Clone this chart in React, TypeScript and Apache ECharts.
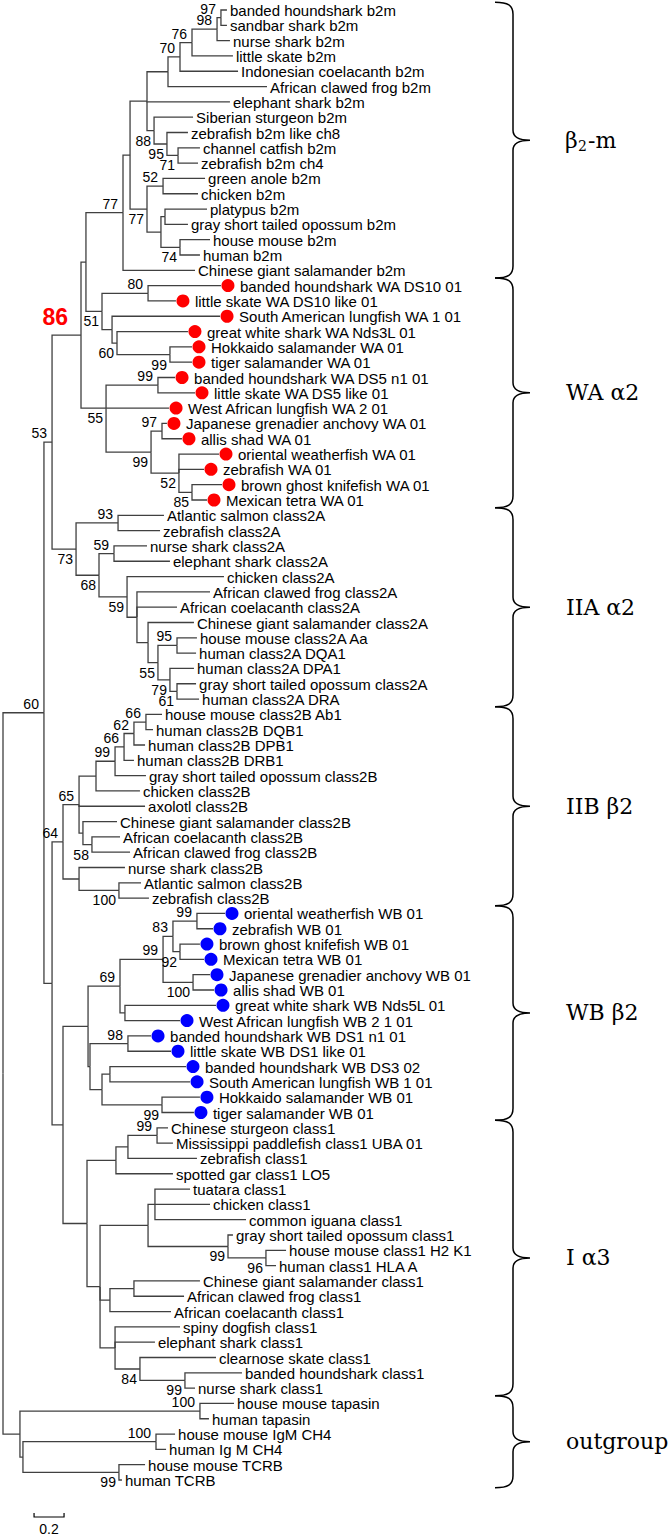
import React, { useEffect, useRef } from "react";
import * as echarts from "echarts";

// ---------- DATA ----------
const leafNames: string[] = [
  "banded houndshark b2m", "sandbar shark b2m", "nurse shark b2m", "little skate b2m",
  "Indonesian coelacanth b2m", "African clawed frog b2m", "elephant shark b2m", "Siberian sturgeon b2m",
  "zebrafish b2m like ch8", "channel catfish b2m", "zebrafish b2m ch4", "green anole b2m",
  "chicken b2m", "platypus b2m", "gray short tailed opossum b2m", "house mouse b2m",
  "human b2m", "Chinese giant salamander b2m",
  "banded houndshark WA DS10 01", "little skate WA DS10 like 01", "South American lungfish WA 1 01",
  "great white shark WA Nds3L 01", "Hokkaido salamander WA 01", "tiger salamander WA 01",
  "banded houndshark WA DS5 n1 01", "little skate WA DS5 like 01", "West African lungfish WA 2 01",
  "Japanese grenadier anchovy WA 01", "allis shad WA 01", "oriental weatherfish WA 01",
  "zebrafish WA 01", "brown ghost knifefish WA 01", "Mexican tetra WA 01",
  "Atlantic salmon class2A", "zebrafish class2A", "nurse shark class2A", "elephant shark class2A",
  "chicken class2A", "African clawed frog class2A", "African coelacanth class2A",
  "Chinese giant salamander class2A", "house mouse class2A Aa", "human class2A DQA1",
  "human class2A DPA1", "gray short tailed opossum class2A", "human class2A DRA",
  "house mouse class2B Ab1", "human class2B DQB1", "human class2B DPB1", "human class2B DRB1",
  "gray short tailed opossum class2B", "chicken class2B", "axolotl class2B",
  "Chinese giant salamander class2B", "African coelacanth class2B", "African clawed frog class2B",
  "nurse shark class2B", "Atlantic salmon class2B", "zebrafish class2B",
  "oriental weatherfish WB 01", "zebrafish WB 01", "brown ghost knifefish WB 01", "Mexican tetra WB 01",
  "Japanese grenadier anchovy WB 01", "allis shad WB 01", "great white shark WB Nds5L 01",
  "West African lungfish WB 2 1 01", "banded houndshark WB DS1 n1 01", "little skate WB DS1 like 01",
  "banded houndshark WB DS3 02", "South American lungfish WB 1 01", "Hokkaido salamander WB 01",
  "tiger salamander WB 01",
  "Chinese sturgeon class1", "Mississippi paddlefish class1 UBA 01", "zebrafish class1",
  "spotted gar class1 LO5", "tuatara class1", "chicken class1", "common iguana class1",
  "gray short tailed opossum class1", "house mouse class1 H2 K1", "human class1 HLA A",
  "Chinese giant salamander class1", "African clawed frog class1", "African coelacanth class1",
  "spiny dogfish class1", "elephant shark class1", "clearnose skate class1",
  "banded houndshark class1", "nurse shark class1",
  "house mouse tapasin", "human tapasin", "house mouse IgM CH4", "human Ig M CH4",
  "house mouse TCRB", "human TCRB",
];

// distance from root (substitutions per site) of each leaf tip
const leafDepth: number[] = [
  1.493, 1.493, 1.513, 1.533, 1.567, 1.760, 1.513, 1.267, 1.233, 1.313,
  1.300, 1.347, 1.300, 1.360, 1.233, 1.380, 1.313, 1.280,
  1.453, 1.153, 1.447, 1.233, 1.260, 1.260, 1.147, 1.280, 1.107, 1.093,
  1.193, 1.440, 1.340, 1.460, 1.360,
  1.073, 1.047, 0.960, 1.113, 1.473, 1.380, 1.160, 1.273, 1.293, 1.287,
  1.273, 1.287, 1.307,
  1.060, 1.000, 0.947, 0.873, 0.953, 0.913, 0.947, 0.760, 0.780, 0.847,
  0.813, 0.920, 0.973,
  1.480, 1.400, 1.313, 1.340, 1.380, 1.407, 1.420, 1.180, 0.987, 1.120,
  1.220, 1.247, 1.313, 1.273,
  1.100, 1.133, 1.293, 1.133, 1.247, 1.380, 1.620, 1.533, 1.887, 1.820,
  1.313, 1.207, 1.120, 1.180, 1.013, 1.420, 1.593, 1.280,
  1.540, 1.373, 1.147, 1.087, 0.947, 0.793,
];

const redDotLeaves: number[] = [18, 19, 20, 21, 22, 23, 24, 25, 26, 27, 28, 29, 30, 31, 32];
const blueDotLeaves: number[] = [59, 60, 61, 62, 63, 64, 65, 66, 67, 68, 69, 70, 71, 72];

// internal nodes: [id, depth, children, bootstrap, label position a=above b=below r=highlight, drawn at child]
const treeNodes: [string, number, (number | string)[], number | null, string, number?][] = [
  ["bs", 1.453, [0, 1], 97, "a"],
  ["bsn", 1.427, ["bs", 2], 98, "a"],
  ["n76", 1.260, ["bsn", 3], 76, "a"],
  ["n70", 1.180, ["n76", 4], 70, "a"],
  ["na", 1.100, ["n70", 5], null, ""],
  ["n71", 1.167, [9, 10], 71, "b"],
  ["n95", 1.093, [8, "n71"], 95, "b"],
  ["n88", 1.007, [7, "n95"], 88, "b"],
  ["nb", 0.960, ["na", 6, "n88"], null, ""],
  ["n52", 1.067, [11, 12], 52, "a"],
  ["npg", 1.080, [13, 14], null, ""],
  ["n74", 1.180, [15, 16], 74, "b"],
  ["nmam", 1.053, ["npg", "n74"], null, ""],
  ["n77b", 0.960, ["n52", "nmam"], 77, "b"],
  ["nc", 0.847, ["nb", "n77b"], null, ""],
  ["n77", 0.800, ["nc", 17], 77, "a"],
  ["n80", 0.967, [18, 19], 80, "a"],
  ["n99s", 1.113, [22, 23], 99, "b"],
  ["n60", 0.760, [21, "n99s"], 60, "b"],
  ["nsa", 0.727, [20, "n60"], null, ""],
  ["n51", 0.660, ["n80", "nsa"], 51, "b"],
  ["n86b", 0.553, ["n77", "n51"], null, ""],
  ["n99d", 1.033, [24, 25], 99, "a"],
  ["n97", 1.060, [27, 28], 97, "a"],
  ["n85", 1.260, [31, 32], 85, "b"],
  ["n52w", 1.173, [29, 30, "n85"], 52, "b"],
  ["n99r", 0.987, ["n97", "n52w"], 99, "b"],
  ["n55", 0.687, ["n99d", 26, "n99r"], 55, "b", 1],
  ["n86", 0.520, ["n86b", "n55"], 86, "r"],
  ["n93", 0.767, [33, 34], 93, "a"],
  ["n59a", 0.740, [35, 36], 59, "a"],
  ["n95a", 1.160, [41, 42], 95, "a"],
  ["n61", 1.160, [44, 45], 61, "b"],
  ["n79", 1.113, [43, "n61"], 79, "b"],
  ["n55a", 1.033, ["n95a", "n79"], 55, "b"],
  ["ncgs", 0.967, [40, "n55a"], null, ""],
  ["nfc", 0.893, [38, 39, "ncgs"], null, ""],
  ["n59b", 0.827, [37, "nfc"], 59, "b"],
  ["n68", 0.640, ["n59a", "n59b"], 68, "b"],
  ["n73", 0.487, ["n93", "n68"], 73, "b"],
  ["n53", 0.327, ["n86", "n73"], 53, "a"],
  ["n66a", 0.953, [46, 47], 66, "a"],
  ["n62", 0.873, ["n66a", 48], 62, "a"],
  ["n66b", 0.807, ["n62", 49], 66, "a"],
  ["n99o", 0.747, ["n66b", 50], 99, "a"],
  ["nch", 0.620, ["n99o", 51], null, ""],
  ["n58", 0.593, [54, 55], 58, "b"],
  ["ncg", 0.533, [53, "n58"], null, ""],
  ["n65", 0.507, ["nch", 52, "ncg"], 65, "a"],
  ["n100", 0.773, [57, 58], 100, "b"],
  ["nns", 0.507, [56, "n100"], null, ""],
  ["n64", 0.400, ["n65", "nns"], 64, "a"],
  ["n99a", 1.293, [59, 60], 99, "a"],
  ["n92", 1.180, [61, 62], 92, "b"],
  ["n83", 1.133, ["n99a", "n92"], 83, "a"],
  ["n100w", 1.267, [63, 64], 100, "b"],
  ["n99b", 1.067, ["n83", "n100w"], 99, "a"],
  ["ngw", 0.813, [65, 66], null, ""],
  ["n69", 0.780, ["n99b", "ngw"], 69, "a"],
  ["n98", 0.833, [67, 68], 98, "a"],
  ["nsa2", 0.713, [69, 70], null, ""],
  ["n99h", 1.060, [71, 72], 99, "b"],
  ["nx102", 0.660, ["nsa2", "n99h"], null, ""],
  ["nx90", 0.580, ["n98", "nx102"], null, ""],
  ["nwb", 0.567, ["n69", "nx90"], null, ""],
  ["n99c", 1.027, [73, 74], 99, "a"],
  ["nzf", 0.833, ["n99c", 75], null, ""],
  ["nsg", 0.753, ["nzf", 76], null, ""],
  ["nrep", 1.013, [77, 78, 79], null, ""],
  ["n96", 1.753, [81, 82], 96, "b"],
  ["n99m", 1.500, [80, "n96"], 99, "b"],
  ["nx148", 0.967, ["nrep", "n99m"], null, ""],
  ["nam", 0.873, [83, 84], null, ""],
  ["namc", 0.713, ["nam", 85], null, ""],
  ["n99n", 1.213, [89, 90], 99, "b"],
  ["n84", 0.913, [88, "n99n"], 84, "b"],
  ["nsh", 0.747, [86, 87, "n84"], null, ""],
  ["nx100", 0.647, ["nx148", "namc", "nsh"], null, ""],
  ["nc1", 0.560, ["nsg", "nx100"], null, ""],
  ["nx63", 0.400, ["nwb", "nc1"], null, ""],
  ["nx52", 0.327, ["n64", "nx63"], null, ""],
  ["n60r", 0.273, ["n53", "nx52"], 60, "a"],
  ["n100t", 1.313, [91, 92], 100, "a"],
  ["n100i", 1.020, [93, 94], 100, "a"],
  ["n99t", 0.773, [95, 96], 99, "b"],
  ["nit", 0.133, ["n100i", "n99t"], null, ""],
  ["nog", 0.113, ["n100t", "nit"], null, ""],
  ["root", 0, ["n60r", "nog"], null, ""],
];

const cladeNames: string[] = ["β2-m", "WA α2", "IIA α2", "IIB β2", "WB β2", "I α3", "outgroup"];
const cladeFirstLeaf: number[] = [0, 18, 33, 46, 59, 73, 91];
const cladeLastLeaf: number[] = [17, 32, 45, 58, 72, 90, 96];

const scaleBarStart = 0.207;
const scaleBarLength = 0.2;
const scaleBarLabel = "0.2";

// ---------- BUILD ----------
const nodeMap = new Map<string, (typeof treeNodes)[number]>();
treeNodes.forEach((n) => nodeMap.set(n[0], n));
const yMemo = new Map<string, number>();
function refY(ref: number | string): number {
  if (typeof ref === "number") return ref;
  if (yMemo.has(ref)) return yMemo.get(ref)!;
  const node = nodeMap.get(ref)!;
  const ch = node[2];
  const y =
    node[5] !== undefined ? refY(ch[node[5] as number]) : (refY(ch[0]) + refY(ch[ch.length - 1])) / 2;
  yMemo.set(ref, y);
  return y;
}
function refX(ref: number | string): number {
  return typeof ref === "number" ? leafDepth[ref] : nodeMap.get(ref)![1];
}

const segments: number[][] = [];
treeNodes.forEach((n) => {
  const py = refY(n[0]);
  n[2].forEach((c) => segments.push([n[1], py, refX(c), refY(c)]));
});

const leafData = leafDepth.map((d, i) => [
  d,
  i,
  redDotLeaves.includes(i) ? 1 : blueDotLeaves.includes(i) ? 2 : 0,
]);

const supportData = treeNodes
  .filter((n) => n[3] !== null)
  .map((n) => [n[1], refY(n[0]), n[3] as number, n[4] === "a" ? 0 : n[4] === "b" ? 1 : 2]);

const cladeData = cladeNames.map((_, i) => [cladeFirstLeaf[i], cladeLastLeaf[i], i]);

const SANS = "'Liberation Sans', Arial, Helvetica, sans-serif";
const SERIF = "'DejaVu Serif', 'Liberation Serif', serif";
const LINE = "#404040";

export default function App() {
  const ref = useRef<HTMLDivElement>(null);
  useEffect(() => {
    if (!ref.current) return;
    const chart = echarts.init(ref.current, undefined, { renderer: "svg" });
    const option: any = {
      animation: false,
      backgroundColor: "#ffffff",
      grid: { left: 3, top: 10, width: 600, height: 1470 },
      xAxis: { type: "value", min: 0, max: 4, show: false },
      yAxis: { type: "value", min: 0, max: 96, inverse: true, show: false },
      series: [
        {
          type: "custom",
          clip: false,
          silent: true,
          data: segments,
          renderItem: (params: any, api: any) => {
            const p = api.coord([api.value(0), api.value(1)]);
            const m = api.coord([api.value(0), api.value(3)]);
            const c = api.coord([api.value(2), api.value(3)]);
            return {
              type: "polyline",
              shape: { points: [p, m, c] },
              style: { stroke: LINE, lineWidth: 1.3, fill: null },
            };
          },
        },
        {
          type: "custom",
          clip: false,
          silent: true,
          data: leafData,
          renderItem: (params: any, api: any) => {
            const p = api.coord([api.value(0), api.value(1)]);
            const mk = api.value(2);
            const children: any[] = [];
            let tx = p[0] + 3;
            if (mk) {
              children.push({
                type: "circle",
                shape: { cx: p[0] + 7, cy: p[1], r: 6.5 },
                style: { fill: mk === 1 ? "#ff0000" : "#0000ff" },
              });
              tx = p[0] + 19;
            }
            children.push({
              type: "text",
              x: tx,
              y: p[1] + 0.5,
              style: {
                text: leafNames[params.dataIndex],
                fontSize: 15,
                fontFamily: SANS,
                fill: "#000",
                align: "left",
                verticalAlign: "middle",
              },
            });
            return { type: "group", children };
          },
        },
        {
          type: "custom",
          clip: false,
          silent: true,
          data: supportData,
          renderItem: (params: any, api: any) => {
            const p = api.coord([api.value(0), api.value(1)]);
            const pos = api.value(3);
            if (pos === 2) {
              return {
                type: "text",
                x: p[0] - 13,
                y: p[1] - 18,
                style: {
                  text: String(api.value(2)),
                  fontSize: 23,
                  fontWeight: "bold",
                  fontFamily: SANS,
                  fill: "#ff0000",
                  align: "right",
                  verticalAlign: "middle",
                },
              };
            }
            return {
              type: "text",
              x: p[0] - (pos === 0 ? 5 : 3),
              y: p[1] + (pos === 0 ? -9 : 10),
              style: {
                text: String(api.value(2)),
                fontSize: 14,
                fontFamily: SANS,
                fill: "#000",
                align: "right",
                verticalAlign: "middle",
              },
            };
          },
        },
        {
          type: "custom",
          clip: false,
          silent: true,
          data: cladeData,
          renderItem: (params: any, api: any) => {
            const top = api.coord([0, api.value(0) - 0.5])[1];
            const bot = api.coord([0, api.value(1) + 0.5])[1];
            const mid = (top + bot) / 2;
            const xl = 495, xv = 513, xt = 530;
            const d =
              `M${xl} ${top} C${xv - 5} ${top} ${xv} ${top + 3} ${xv} ${top + 12} ` +
              `L${xv} ${mid - 10} C${xv} ${mid - 3} ${xv + 7} ${mid} ${xt} ${mid} ` +
              `C${xv + 7} ${mid} ${xv} ${mid + 3} ${xv} ${mid + 10} ` +
              `L${xv} ${bot - 12} C${xv} ${bot - 3} ${xv - 5} ${bot} ${xl} ${bot}`;
            const children: any[] = [
              {
                type: "path",
                shape: { pathData: d },
                style: { stroke: "#000", lineWidth: 1.5, fill: null },
              },
            ];
            const idx = params.dataIndex;
            const name = cladeNames[idx];
            const tStyle = { fontSize: 22, fontFamily: SERIF, fill: "#000", align: "left", verticalAlign: "middle" };
            if (name.startsWith("β2-")) {
              children.push({ type: "text", x: 565, y: mid, style: { ...tStyle, text: "β" } });
              children.push({ type: "text", x: 578, y: mid + 6, style: { ...tStyle, fontSize: 14, text: "2" } });
              children.push({ type: "text", x: 588, y: mid, style: { ...tStyle, text: name.slice(2) } });
            } else {
              children.push({ type: "text", x: 566, y: mid, style: { ...tStyle, text: name } });
            }
            return { type: "group", children };
          },
        },
        {
          type: "custom",
          clip: false,
          silent: true,
          data: [[scaleBarStart, scaleBarLength]],
          renderItem: (params: any, api: any) => {
            const a = api.coord([api.value(0), 96]);
            const b = api.coord([api.value(0) + api.value(1), 96]);
            const y = a[1] + 37;
            return {
              type: "group",
              children: [
                {
                  type: "polyline",
                  shape: { points: [[a[0], y - 4], [a[0], y], [b[0], y], [b[0], y - 4]] },
                  style: { stroke: "#000", lineWidth: 1.2, fill: null },
                },
                {
                  type: "text",
                  x: (a[0] + b[0]) / 2,
                  y: y + 12,
                  style: {
                    text: scaleBarLabel,
                    fontSize: 14,
                    fontFamily: SANS,
                    fill: "#000",
                    align: "center",
                    verticalAlign: "middle",
                  },
                },
              ],
            };
          },
        },
      ],
    };
    chart.setOption(option);
    return () => chart.dispose();
  }, []);
  return (
    <div
      ref={ref}
      style={{ position: "absolute", left: 0, top: 0, width: 670, height: 1537, background: "#fff" }}
    />
  );
}
